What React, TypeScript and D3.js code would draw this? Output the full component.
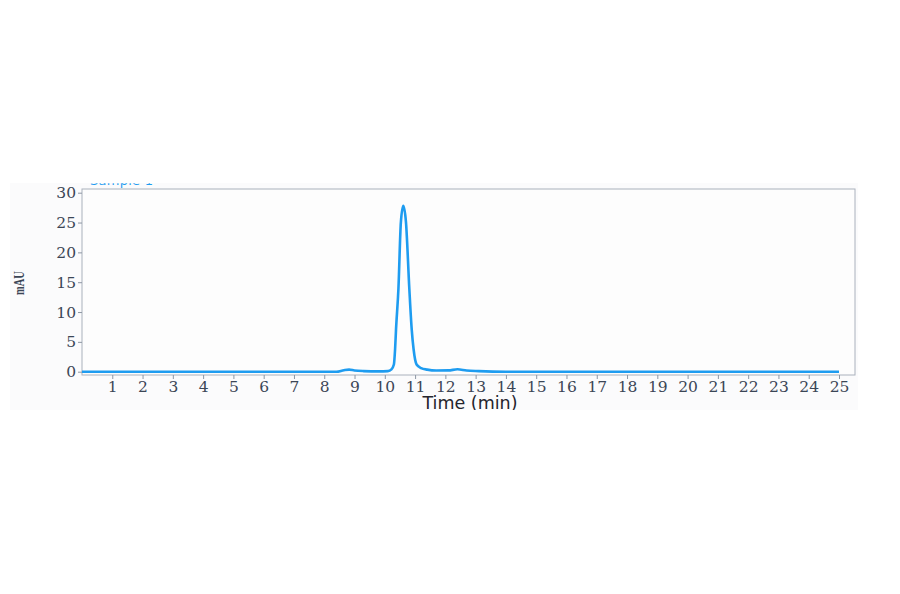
import { scaleLinear, line, curveMonotoneX, axisBottom, axisLeft, select } from "d3";
import { useEffect, useRef } from "react";

// retention time (min) and absorbance (mAU)
const times = [
    0, 8.4, 8.65, 8.82, 9.0, 9.3, 9.8, 10.1, 10.22, 10.3, 10.34, 10.37,
    10.45, 10.53, 10.61, 10.7, 10.81, 10.89, 10.95, 11.05, 11.2, 11.4,
    11.7, 12.1, 12.4, 12.7, 13.1, 14, 25,
];
const mau = [
    0, 0, 0.25, 0.35, 0.2, 0.1, 0.05, 0.1, 0.4, 1.2, 3.8, 7, 13.9, 25,
    27.8, 25, 13.9, 7, 3.8, 1.2, 0.6, 0.35, 0.2, 0.22, 0.4, 0.2, 0.1, 0, 0,
];
const xTicks = [
    1, 2, 3, 4, 5, 6, 7, 8, 9, 10, 11, 12, 13, 14, 15, 16, 17, 18, 19, 20,
    21, 22, 23, 24, 25,
];
const yTicks = [0, 5, 10, 15, 20, 25, 30];

const W = 900;
const H = 594;
const left = 82;
const right = 855;
const top = 189;
const bottom = 375;

function App() {
    const svgRef = useRef(null);

    const x = scaleLinear().domain([0, 25]).range([left, 839]);
    const y = scaleLinear().domain([0, 30]).range([371.7, 192.7]);

    useEffect(() => {
        const svg: any = select(svgRef.current);

        const xAxis = axisBottom(x)
            .tickValues(xTicks)
            .tickSize(4)
            .tickSizeOuter(0)
            .tickPadding(2);
        svg.select(".x-axis")
            .attr("transform", `translate(0, ${bottom})`)
            .call(xAxis);

        const yAxis = axisLeft(y)
            .tickValues(yTicks)
            .tickSize(4)
            .tickSizeOuter(0)
            .tickPadding(2);
        svg.select(".y-axis")
            .attr("transform", `translate(${left}, 0)`)
            .call(yAxis);

        svg.selectAll(".x-axis .domain, .y-axis .domain").remove();
        svg.selectAll(".tick line").attr("stroke", "#8e97a4");
        svg.selectAll(".tick text")
            .attr("fill", "#3b4656")
            .style("font-family", "'DejaVu Serif', serif")
            .style("font-size", "15.5px");
    }, []);

    const path = line<number>()
        .x((d, i) => x(times[i]))
        .y((d) => y(d))
        .curve(curveMonotoneX)(mau);

    return (
        <svg
            ref={svgRef}
            width={W}
            height={H}
            style={{ position: "absolute", left: 0, top: 0 }}
        >
            <defs>
                <clipPath id="panel">
                    <rect x={10} y={183.3} width={848} height={226.7} />
                </clipPath>
            </defs>
            <rect x={0} y={0} width={W} height={H} fill="#ffffff" />
            <rect x={10} y={183} width={848} height={227} fill="#fbfbfc" />
            {/* legend that was cut off at the top of the picture */}
            <g clipPath="url(#panel)">
                <text
                    x={90}
                    y={185.3}
                    fill="#1e9cf0"
                    textLength={63}
                    style={{ fontFamily: "'DejaVu Sans', sans-serif", fontSize: 13 }}
                >
                    Sample 1
                </text>
            </g>
            <rect
                x={left}
                y={top}
                width={right - left}
                height={bottom - top}
                fill="#fdfdfd"
                stroke="#aab1bc"
                strokeWidth={1}
            />
            <g className="x-axis" />
            <g className="y-axis" />
            <path
                d={path ?? ""}
                fill="none"
                stroke="#1e9cf0"
                strokeWidth={2.6}
                strokeLinejoin="round"
            />
            <text
                transform="translate(24, 283) scale(1.35, 1) rotate(-90)"
                textAnchor="middle"
                fill="#3b4656"
                style={{ fontFamily: "'Liberation Serif', serif", fontSize: 10.5, fontWeight: "bold" }}
            >
                mAU
            </text>
            <g clipPath="url(#panel)">
                <text
                    x={470}
                    y={409}
                    textAnchor="middle"
                    fill="#24242c"
                    style={{ fontFamily: "'DejaVu Sans', sans-serif", fontSize: 17.5 }}
                >
                    Time (min)
                </text>
            </g>
        </svg>
    );
}

export default App;
